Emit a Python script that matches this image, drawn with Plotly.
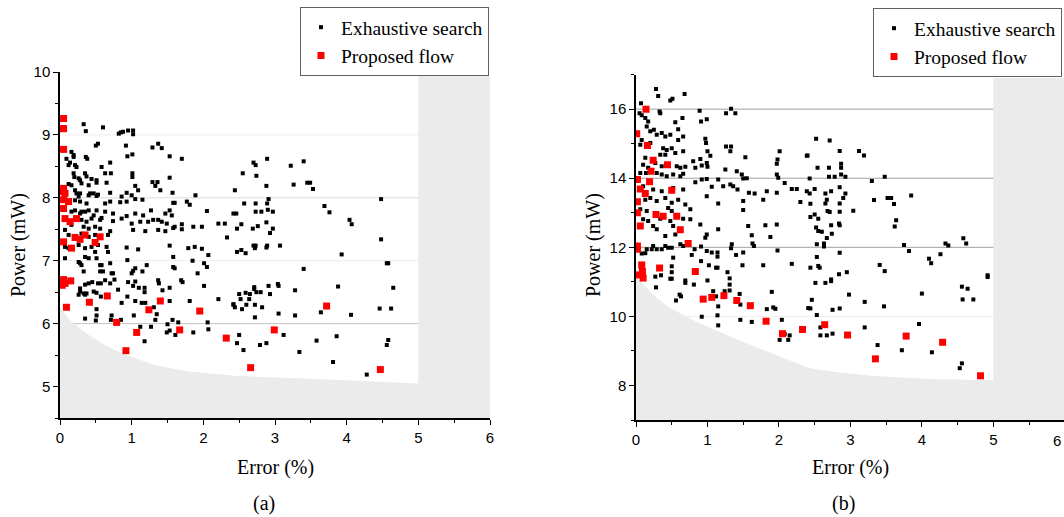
import plotly.graph_objects as go

# ---------------- data : panel (a) ----------------
exh_a = [
    (0.33,9.17),(0.36,9.06),(0.60,9.12),(0.82,9.02),(0.85,9.04),(0.88,9.05),(0.95,9.07),(1.02,9.07),(1.02,9.01),
    (0.53,8.86),(0.50,8.83),(0.92,8.83),(1.29,8.80),(1.37,8.86),(1.42,8.79),
    (0.16,8.73),(0.09,8.62),(0.14,8.56),(0.12,8.52),(0.19,8.68),(0.19,8.65),(0.36,8.65),(0.38,8.62),(0.94,8.66),(1.01,8.69),(1.53,8.66),(1.70,8.62),
    (0.21,8.52),(0.23,8.49),(0.58,8.49),(0.70,8.56),
    (0.19,8.39),(0.20,8.33),(0.26,8.31),(0.35,8.39),(0.37,8.34),(0.63,8.39),(0.71,8.39),(1.01,8.39),(1.01,8.33),(1.53,8.32),
    (0.12,8.22),(0.16,8.20),(0.28,8.28),(0.30,8.23),(0.40,8.20),(0.44,8.30),(0.51,8.28),(0.51,8.24),(0.65,8.24),(1.05,8.19),(1.29,8.25),(1.36,8.25),(1.33,8.19),(1.40,8.12),
    (0.21,8.12),(0.23,8.07),(0.28,8.07),(0.26,8.02),(0.42,8.07),(0.40,8.04),(0.47,8.07),(0.51,8.03),(0.53,8.05),(0.70,8.08),(0.86,8.02),(0.93,8.08),(1.00,8.04),(1.09,8.12),(1.57,8.08),(1.89,8.04),
    (0.21,7.96),(0.28,7.94),(0.37,7.91),(0.63,7.91),(0.70,7.94),(0.84,7.93),(0.93,7.94),(1.05,7.98),(1.15,7.97),(1.58,7.92),(1.60,7.92),(1.77,7.94),(1.81,7.89),(2.05,7.79),(2.42,7.75),
    (0.16,7.78),(0.21,7.80),(0.28,7.75),(0.30,7.78),(0.35,7.78),(0.40,7.80),(0.47,7.72),(0.51,7.80),(0.63,7.78),(0.74,7.75),(0.86,7.67),(0.93,7.71),(1.05,7.75),(1.16,7.72),(1.27,7.80),(1.53,7.80),(1.47,7.75),(1.56,7.72),(1.37,7.65),
    (0.21,7.65),(0.30,7.65),(0.37,7.62),(0.44,7.67),(0.56,7.65),(0.58,7.68),(0.74,7.63),(1.00,7.59),(1.12,7.62),(1.23,7.62),(1.30,7.65),(1.42,7.62),(1.49,7.59),(1.60,7.54),(1.70,7.58),(1.86,7.54),(1.98,7.54),(2.21,7.59),(2.30,7.59),
    (0.07,7.49),(0.16,7.57),(0.33,7.54),(0.40,7.51),(0.49,7.54),(0.56,7.51),(0.70,7.47),(1.02,7.49),(1.19,7.47),(1.37,7.49),(1.47,7.47),(1.58,7.52),(1.70,7.50),
    (0.12,7.41),(0.30,7.43),(0.40,7.38),(0.49,7.41),(0.67,7.41),(2.33,7.37),
    (0.07,7.22),(0.12,7.20),(0.26,7.25),(0.35,7.20),(0.44,7.22),(0.53,7.25),(0.49,7.14),(0.65,7.22),(0.67,7.14),(0.93,7.21),(1.09,7.18),(1.53,7.24),(1.79,7.20),(1.88,7.22),(1.98,7.19),(2.07,7.09),
    (2.89,8.62),(2.70,8.56),(2.73,8.52),(3.22,8.51),(3.40,8.58),(2.55,8.39),(2.74,8.35),(2.88,8.19),(3.26,8.21),(3.45,8.24),(3.49,8.24),(3.53,8.14),(2.44,8.12),(4.48,7.98),
    (2.57,7.91),(2.73,7.91),(2.91,7.98),(2.89,7.91),(3.69,7.87),(3.76,7.77),(2.46,7.75),(2.73,7.78),(2.81,7.78),(2.90,7.81),(2.97,7.78),(4.04,7.65),(4.07,7.58),
    (2.53,7.58),(2.47,7.51),(2.69,7.51),(2.76,7.55),(2.88,7.61),(2.97,7.51),(2.93,7.44),(4.48,7.34),(2.47,7.14),(2.53,7.17),(2.59,7.12),(2.70,7.24),(2.73,7.24),
    (2.72,7.20),(2.88,7.21),(2.89,7.24),(3.07,7.24),(3.93,7.10),
    (0.07,7.04),(0.35,7.06),(0.28,6.96),(0.30,6.93),(0.26,6.98),(0.40,7.04),(0.51,7.04),(0.56,6.93),(0.58,6.93),(0.70,6.96),(0.94,7.01),(1.05,6.88),(1.02,6.84),(1.21,6.93),(1.58,7.06),(1.85,7.00),(2.01,6.96),(2.05,6.90),
    (0.33,6.83),(0.56,6.83),(0.60,6.83),(0.72,6.80),(0.74,6.80),(1.00,6.80),(1.15,6.83),(1.58,6.90),(1.60,6.88),(1.92,6.80),
    (0.35,6.62),(0.40,6.64),(0.45,6.66),(0.53,6.64),(0.57,6.64),(0.63,6.69),(0.70,6.64),(0.76,6.70),(0.95,6.66),(1.05,6.67),(1.02,6.60),(1.10,6.57),(1.18,6.57),(1.18,6.50),(1.37,6.69),(1.38,6.64),(1.43,6.53),(1.53,6.57),(1.69,6.69),(1.71,6.66),(2.01,6.60),
    (0.28,6.56),(0.28,6.51),(0.26,6.46),(0.33,6.48),(0.35,6.46),(0.37,6.48),(0.47,6.51),(0.51,6.49),(0.57,6.43),(0.81,6.54),(0.94,6.43),(1.05,6.36),(1.14,6.33),(1.19,6.33),(1.53,6.36),(1.81,6.36),(2.21,6.39),(0.86,6.33),
    (0.51,6.23),(0.51,6.13),(0.50,6.05),(0.35,6.08),(0.72,6.13),(0.71,6.06),(0.85,6.06),(1.03,6.13),(1.31,6.26),(1.35,6.15),(1.33,6.06),(1.12,5.95),(1.27,5.95),(1.50,5.99),(1.57,6.06),(1.65,6.02),
    (1.49,5.86),(1.53,5.89),(1.61,5.82),(1.86,5.86),(2.06,6.02),(2.07,5.91),(1.18,5.72),(2.42,6.30),
    (4.56,6.96),(4.58,6.96),(3.40,6.87),(4.65,6.57),(3.88,6.59),(2.50,6.47),(2.59,6.49),(2.65,6.47),(2.71,6.55),(2.71,6.58),(2.74,6.50),(2.80,6.50),(2.91,6.60),(2.93,6.47),
    (3.04,6.63),(3.05,6.60),(3.28,6.53),(2.52,6.39),(2.64,6.39),(2.42,6.31),(2.44,6.26),(2.54,6.23),(2.60,6.30),(2.72,6.30),(2.82,6.26),(2.72,6.10),(3.05,6.16),(3.28,6.13),
    (3.64,6.18),(4.06,6.14),(4.46,6.24),(4.62,6.24),(2.50,5.82),(2.47,5.69),(2.56,5.58),(2.79,5.66),(2.88,5.69),(3.12,5.82),(3.34,5.55),(3.58,5.73),(3.86,5.80),(3.81,5.39),
    (4.28,5.19),(4.58,5.74),(4.56,5.66),
]
prop_a = [
    (0.05,9.26),(0.05,9.10),(0.03,9.10),(0.05,8.77),(0.05,8.15),(0.04,8.10),(0.07,8.07),(0.05,7.97),(0.12,7.94),(0.05,7.83),
    (0.07,7.67),(0.14,7.62),(0.23,7.67),(0.05,7.30),(0.16,7.20),(0.21,7.37),(0.28,7.34),(0.35,7.41),(0.49,7.29),(0.56,7.38),
    (0.05,6.70),(0.03,6.61),(0.07,6.64),(0.15,6.68),(0.09,6.26),(0.41,6.34),(0.66,6.44),(0.79,6.02),(0.92,5.57),(1.07,5.86),
    (1.24,6.22),(1.40,6.36),(1.67,5.90),(1.95,6.20),(2.32,5.77),(2.66,5.30),(2.99,5.90),(3.72,6.28),(4.47,5.27),
]
# lower bound of the feasible region (a)
bound_a_err = [0, 0.16, 0.4, 0.63, 0.86, 1.33, 1.79, 2.44, 3.3, 4.23, 5.0]
bound_a_pow = [6.25, 6.03, 5.82, 5.66, 5.53, 5.34, 5.24, 5.17, 5.13, 5.09, 5.05]
top_a = 9.94

# ---------------- data : panel (b) ----------------
exh_b = [
    (0.28,16.58),(0.31,16.38),(0.48,16.25),(0.51,16.30),(0.68,16.44),(0.07,16.17),
    (0.05,15.88),(0.08,15.82),(0.13,15.74),(0.17,15.64),(0.33,15.93),(0.34,15.88),(0.55,15.62),(0.65,15.74),(0.89,15.95),(0.91,15.64),(0.99,15.71),(1.26,15.88),(1.33,16.01),(1.39,15.88),
    (0.15,15.50),(0.20,15.36),(0.25,15.40),(0.29,15.26),(0.36,15.31),(0.41,15.21),(0.48,15.26),(0.59,15.42),(0.66,15.21),(0.59,15.11),(0.97,15.14),(0.98,15.02),(1.26,14.92),(1.33,14.92),
    (1.32,14.78),(0.08,15.11),(0.06,14.97),(0.20,15.02),(0.38,14.87),(0.43,14.82),(0.50,14.87),(0.34,14.68),(0.41,14.68),(0.55,14.73),(0.66,14.78),(1.00,14.78),(1.04,14.65),(1.53,14.61),
    (2.01,14.78),(1.98,14.54),(1.97,14.42),(2.39,14.65),
    (0.13,14.59),(0.10,14.39),(0.17,14.30),(0.27,14.44),(0.36,14.35),(0.57,14.35),(0.62,14.30),(0.69,14.33),(0.80,14.49),(0.83,14.30),(0.90,14.56),(0.92,14.37),(0.99,14.44),(1.00,14.33),
    (1.25,14.25),(1.41,14.20),(1.48,14.11),(1.50,13.99),(1.55,14.00),(1.97,14.11),(1.99,14.01),(2.08,13.86),
    (0.06,14.15),(0.14,14.15),(0.29,14.15),(0.36,14.11),(0.43,14.06),(0.52,14.11),(0.62,14.06),(0.66,14.13),(0.83,13.88),(0.92,13.96),(0.99,13.98),(1.06,13.75),(1.15,13.96),(1.22,13.77),
    (1.32,13.82),(1.36,13.77),(1.42,13.67),(1.58,13.58),(1.66,13.56),(1.83,13.62),(1.97,13.58),(2.18,13.69),(2.25,13.69),(2.39,13.62),(2.30,13.31),(1.78,13.38),
    (0.10,13.77),(0.24,13.67),(0.36,13.62),(0.52,13.72),(0.66,13.67),(0.13,13.38),(0.20,13.43),(0.29,13.34),(0.41,13.43),(0.50,13.29),(0.59,13.38),(0.69,13.24),(0.99,13.48),(1.50,13.34),
    (1.50,13.08),(0.06,13.10),(0.15,13.05),(0.45,13.14),(0.50,13.05),(0.76,13.10),(1.15,13.27),
    (0.10,12.81),(0.17,12.76),(0.34,12.83),(0.48,12.76),(0.52,12.62),(0.66,12.83),(0.76,12.81),(0.90,12.66),(1.15,12.52),(1.57,12.62),(1.81,12.64),(1.97,12.66),(0.24,12.62),(0.29,12.52),
    (1.62,12.35),(1.88,12.30),(0.41,12.33),(0.55,12.37),(0.99,12.37),(0.97,12.28),
    (2.52,15.14),(2.71,15.09),(2.40,14.66),(2.85,14.79),(3.12,14.79),(3.19,14.66),(2.54,14.30),(2.70,14.30),(2.87,14.42),(2.87,14.30),(2.43,13.99),(2.70,14.04),(2.78,14.04),(2.87,14.11),
    (2.93,14.04),(3.30,13.92),(3.48,14.04),(2.50,13.69),(2.43,13.56),(2.65,13.56),(2.73,13.62),(2.85,13.74),(2.93,13.56),(2.90,13.43),(2.67,13.38),(2.65,13.27),(2.44,13.26),(3.33,13.37),
    (3.52,13.43),(3.57,13.43),(3.61,13.25),(3.85,13.50),(2.85,13.27),(2.68,13.05),(2.71,13.02),(2.85,13.03),(3.04,13.06),(2.44,12.88),(2.50,12.95),(2.55,12.83),(2.52,12.57),(2.55,12.47),
    (2.60,12.45),(2.73,12.64),(2.84,12.69),(2.85,12.64),(2.74,12.39),(2.67,12.27),(3.64,12.78),(3.62,12.60),(4.58,12.26),
    (0.15,11.94),(0.08,11.82),(0.13,11.83),(0.22,11.94),(0.24,12.04),(0.29,11.94),(0.36,11.94),(0.41,12.04),(0.45,11.99),(0.50,11.99),(0.52,11.70),(0.62,12.09),(0.66,12.04),(0.82,11.94),
    (0.91,12.02),(0.78,11.78),(0.99,11.89),(1.06,11.85),(1.14,11.85),(1.14,11.73),(0.91,11.60),(1.02,11.48),(1.12,11.41),(1.14,11.41),(1.28,11.28),(1.33,11.97),(1.34,12.09),(1.40,11.78),
    (1.50,11.85),(1.49,11.48),(1.65,12.04),(1.63,12.11),(1.78,11.48),(1.98,11.91),(2.18,11.52),(0.50,11.45),(0.50,11.28),(0.27,11.15),(0.35,11.19),(0.48,11.09),(0.50,11.09),(0.69,11.04),
    (0.69,10.97),(0.81,10.92),(1.00,11.04),(1.31,11.10),(1.31,10.92),(0.28,10.84),(0.61,10.63),(0.63,10.58),(0.56,10.46),(1.08,10.73),(1.12,10.58),(1.24,10.73),(1.31,10.75),(1.45,10.65),
    (1.90,10.71),(1.46,10.34),(0.92,9.99),(1.15,10.29),(1.14,10.03),(1.15,9.74),(1.46,9.90),(1.62,9.84),(1.83,10.21),(1.92,10.26),(1.95,10.22),(2.04,9.90),(2.01,9.32),(2.08,9.49),
    (2.15,9.45),(2.13,9.32),(2.41,10.24),
    (2.53,12.09),(2.63,12.11),(2.63,12.02),(2.85,11.84),(3.75,12.07),(3.82,11.89),(4.10,11.67),(4.13,11.54),(4.26,11.80),(4.33,12.11),(4.37,12.05),(4.62,12.11),(2.53,11.72),(2.44,11.41),
    (2.55,11.46),(2.57,11.41),(2.84,11.22),(2.95,11.28),(2.51,10.97),(2.65,10.97),(2.73,11.07),(2.73,11.02),(3.41,11.49),(3.48,11.31),(2.98,10.63),(3.20,10.42),(3.47,10.29),(4.00,10.66),
    (2.46,10.48),(2.44,10.23),(2.53,10.04),(2.75,10.19),(2.85,10.23),(4.56,10.86),(4.64,10.80),(4.57,10.49),(4.72,10.49),(4.92,11.19),(4.92,11.14),(2.58,9.68),(2.58,9.45),(2.67,9.45),
    (2.75,9.50),(3.20,9.68),(3.96,9.78),(3.38,9.17),(3.72,9.02),(4.14,8.96),(4.56,8.64),(4.53,8.50),
]
prop_b = [
    (0.14,16.0),(0.01,15.29),(0.16,14.95),(0.24,14.52),(0.44,14.39),(0.21,14.2),(0.19,13.9),(0.02,13.96),(0.06,13.69),(0.13,13.56),
    (0.50,13.65),(0.02,13.32),(0.02,13.0),(0.28,12.95),(0.38,12.9),(0.57,12.9),(0.06,12.62),(0.62,12.51),(0.73,12.11),(0.02,12.04),
    (0.02,11.94),(0.08,11.49),(0.33,11.4),(0.09,11.3),(0.02,11.2),(0.10,11.11),(0.83,11.3),(0.94,10.5),(1.06,10.55),(1.23,10.6),
    (1.41,10.46),(1.60,10.31),(1.82,9.86),(2.05,9.5),(2.33,9.62),(2.64,9.76),(2.96,9.46),(3.35,8.77),(3.78,9.43),(4.29,9.25),(4.82,8.28),
]
bound_b_err = [0, 0.1, 0.29, 0.48, 0.85, 1.32, 1.78, 2.43, 2.83, 3.3, 3.76, 4.23, 5.0]
bound_b_pow = [11.2, 10.92, 10.53, 10.24, 9.84, 9.42, 9.03, 8.5, 8.38, 8.28, 8.22, 8.18, 8.15]
top_b = 16.9

x_ticks = [0, 1, 2, 3, 4, 5, 6]
grid_a = [5, 6, 7, 8, 9]
grid_a_col = ['#a6a6a6', '#c4c4c4', '#ececec', '#dcdcdc', '#eeeeee']
grid_b = [8, 10, 12, 14, 16]
grid_b_col = ['#dedede', '#eeeeee', '#a0a0a0', '#a0a0a0', '#a0a0a0']

# ---------------- figure ----------------
W, H = 1064, 517
SHADE = '#ebebeb'
SERIF = 'Liberation Serif, Times New Roman, serif'
SANS = 'Liberation Sans, Arial, sans-serif'

def split(pts):
    return [p[0] for p in pts], [p[1] for p in pts]

fig = go.Figure()
for pts_e, pts_p, xa, ya, lg in [(exh_a, prop_a, 'x', 'y', 'legend'),
                                 (exh_b, prop_b, 'x2', 'y2', 'legend2')]:
    ex, ey = split(pts_e)
    px, py = split(pts_p)
    fig.add_trace(go.Scatter(x=ex, y=ey, mode='markers', name='Exhaustive search',
                             marker=dict(symbol='square', size=4, color='black'),
                             xaxis=xa, yaxis=ya, legend=lg, hoverinfo='skip'))
    fig.add_trace(go.Scatter(x=px, y=py, mode='markers', name='Proposed flow',
                             marker=dict(symbol='square', size=7, color='#ff0000'),
                             xaxis=xa, yaxis=ya, legend=lg, hoverinfo='skip'))

def shade_path(bx, by, top, xmax, ymin):
    pts = [(bx[0], ymin)] + list(zip(bx, by)) + [(bx[-1], top), (xmax, top), (xmax, ymin)]
    return 'M ' + ' L '.join(f'{a},{b}' for a, b in pts) + ' Z'

xr_a = [0, 6]
yr_a = [4.5, 10]
xr_b = [0, (W - 636) / 71.47]
yr_b = [7, 17]

shapes = [
    dict(type='path', xref='x', yref='y', layer='below', line=dict(width=0), fillcolor=SHADE,
         path=shade_path(bound_a_err, bound_a_pow, top_a, xr_a[1], yr_a[0])),
    dict(type='path', xref='x2', yref='y2', layer='below', line=dict(width=0), fillcolor=SHADE,
         path=shade_path(bound_b_err, bound_b_pow, top_b, xr_b[1], yr_b[0])),
]
for lv, c in zip(grid_a, grid_a_col):
    shapes.append(dict(type='line', xref='x domain', yref='y', x0=0, x1=1, y0=lv, y1=lv,
                       layer='below', line=dict(color=c, width=1)))
for lv, c in zip(grid_b, grid_b_col):
    shapes.append(dict(type='line', xref='x2 domain', yref='y2', x0=0, x1=1, y0=lv, y1=lv,
                       layer='below', line=dict(color=c, width=1)))

axis_style = dict(showline=True, linecolor='black', linewidth=1.5, ticks='outside', ticklen=5,
                  tickwidth=1.2, tickcolor='black', showgrid=False, zeroline=False,
                  tickfont=dict(family=SANS, size=15, color='black'))

legend_style = dict(xanchor='left', yanchor='top', bgcolor='white',
                    bordercolor='#606060', borderwidth=1, itemwidth=30, tracegroupgap=0,
                    font=dict(family=SERIF, size=19.5, color='black'))

fig.update_layout(
    width=W, height=H, margin=dict(l=0, r=0, t=0, b=0, autoexpand=False),
    paper_bgcolor='white', plot_bgcolor='white',
    xaxis=dict(domain=[60 / W, 490 / W], range=xr_a, anchor='y', tickvals=x_ticks,
               minor=dict(ticks='outside', ticklen=3, tickcolor='black', dtick=0.5, tick0=0), **axis_style),
    yaxis=dict(domain=[(H - 418) / H, (H - 72) / H], range=yr_a, anchor='x', dtick=1, tick0=0,
               minor=dict(ticks='outside', ticklen=3, tickcolor='black', dtick=0.5, tick0=0), **axis_style),
    xaxis2=dict(domain=[636 / W, 1.0], range=xr_b, anchor='y2', tickvals=x_ticks,
                minor=dict(ticks='outside', ticklen=3, tickcolor='black', dtick=0.5, tick0=0), **axis_style),
    yaxis2=dict(domain=[(H - 420) / H, (H - 74.6) / H], range=yr_b, anchor='x2', dtick=2, tick0=0,
                minor=dict(ticks='outside', ticklen=3, tickcolor='black', dtick=1, tick0=0), **axis_style),
    shapes=shapes,
    legend=dict(x=300 / W, y=1 - 7 / H, **legend_style),
    legend2=dict(x=873 / W, y=1 - 8 / H, **legend_style),
)

ann = []
title_font = dict(family=SERIF, size=20, color='black')
for xc, label in [(275, 'Error (%)'), (850, 'Error (%)')]:
    ann.append(dict(text=label, xref='paper', yref='paper', x=xc / W, y=1 - 467 / H,
                    xanchor='center', yanchor='middle', showarrow=False, font=title_font))
for xc in [18, 593]:
    ann.append(dict(text='Power (mW)', xref='paper', yref='paper', x=xc / W, y=1 - 245 / H,
                    xanchor='center', yanchor='middle', showarrow=False, textangle=-90, font=title_font))
for xc, label in [(264, '(a)'), (843, '(b)')]:
    ann.append(dict(text=label, xref='paper', yref='paper', x=xc / W, y=1 - 503 / H,
                    xanchor='center', yanchor='middle', showarrow=False, font=title_font))
# the "6" tick label of panel (b), at the right image edge (kept fully visible)
ann.append(dict(text='6', xref='paper', yref='paper', x=1.0, y=1 - 440 / H,
                xanchor='right', yanchor='middle', showarrow=False, xshift=-1,
                font=dict(family=SANS, size=15, color='black')))
fig.update_layout(annotations=ann)

fig.write_html('out.html')
